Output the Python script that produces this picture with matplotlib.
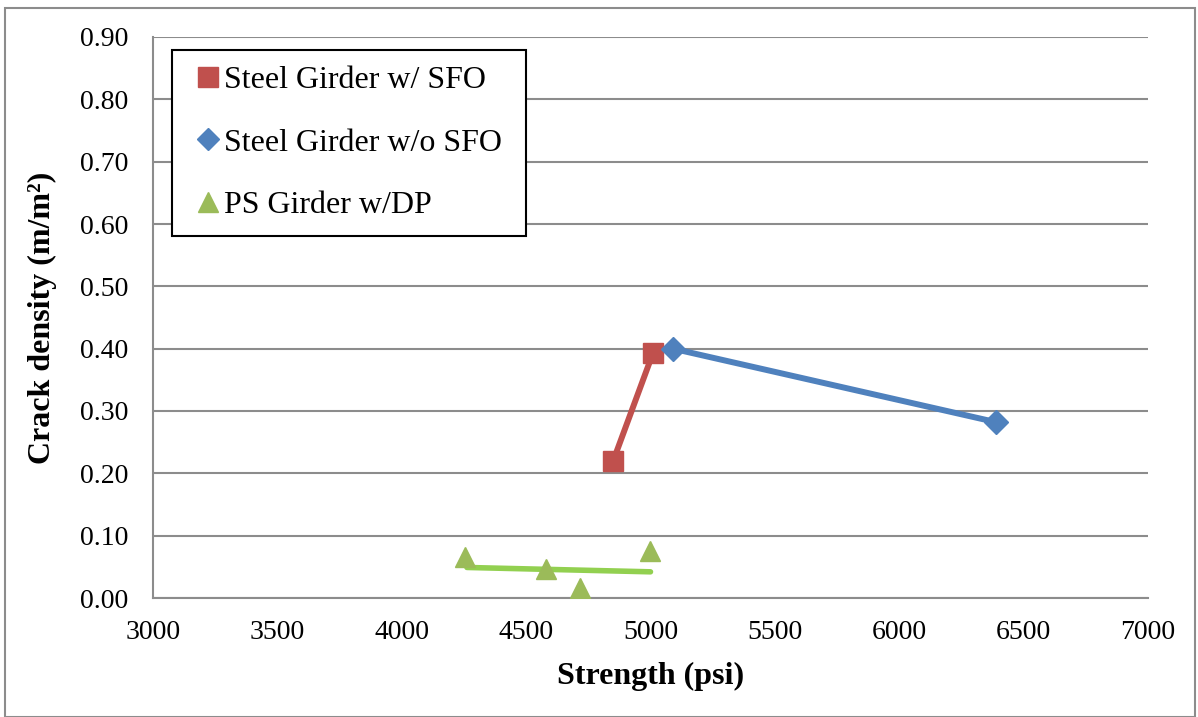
import matplotlib.pyplot as plt
from matplotlib.patches import Rectangle

plt.rcParams['font.family'] = ['Liberation Serif', 'DejaVu Serif']

# data
sfo_x = [4850, 5010]
sfo_y = [0.220, 0.393]
nosfo_x = [5090, 6390]
nosfo_y = [0.400, 0.282]
dp_x = [4255, 4578, 4718, 4998]
dp_y = [0.066, 0.047, 0.016, 0.075]
trend_x = [4262, 5000]
trend_y = [0.049, 0.042]

x_ticks = [3000, 3500, 4000, 4500, 5000, 5500, 6000, 6500, 7000]
y_ticks = [0.0, 0.1, 0.2, 0.3, 0.4, 0.5, 0.6, 0.7, 0.8, 0.9]

red = '#C0504D'
blue = '#4F81BD'
green = '#9BBB59'
trend_green = '#92D050'
grid_gray = '#8C8C8C'

fig = plt.figure(figsize=(11.98, 7.17), dpi=100)
fig.patches.append(Rectangle((5 / 1198, 0), 1190 / 1198, 1 - 8 / 717, transform=fig.transFigure,
                             fill=False, edgecolor='#8C8C8C', linewidth=1.5))
ax = fig.add_axes([153 / 1198, 1 - 598 / 717, (1148 - 153) / 1198, (598 - 37) / 717])

ax.plot(trend_x, trend_y, color=trend_green, linewidth=4, solid_capstyle='round', zorder=2)
ax.plot(sfo_x, sfo_y, color=red, linewidth=4.3, marker='s', markersize=14, zorder=3)
ax.plot(nosfo_x, nosfo_y, color=blue, linewidth=4.3, marker='D', markersize=12, zorder=3)
ax.plot(dp_x, dp_y, linestyle='none', color=green, marker='^', markersize=15, zorder=3)

ax.set_xlim(3000, 7000)
ax.set_ylim(0, 0.9)
ax.set_xticks(x_ticks)
ax.set_yticks(y_ticks)
ax.set_yticklabels(['%.2f' % v for v in y_ticks])
ax.tick_params(length=0, labelsize=20)
ax.tick_params(axis='y', pad=18)
ax.tick_params(axis='x', pad=16)
ax.grid(axis='y', color=grid_gray, linewidth=1.5)
ax.set_axisbelow(True)
for s in ['top', 'right']:
    ax.spines[s].set_visible(False)
for s in ['left', 'bottom']:
    ax.spines[s].set_color(grid_gray)
    ax.spines[s].set_linewidth(1.5)

ax.set_xlabel('Strength (psi)', fontsize=23, fontweight='bold', labelpad=12)
ax.set_ylabel('Crack density (m/m²)', fontsize=23, fontweight='bold', labelpad=16)

handles = [
    plt.Line2D([], [], color=red, marker='s', linestyle='none', markersize=14),
    plt.Line2D([], [], color=blue, marker='D', linestyle='none', markersize=11),
    plt.Line2D([], [], color=green, marker='^', linestyle='none', markersize=14),
]
labels = ['Steel Girder w/ SFO', 'Steel Girder w/o SFO ', 'PS Girder w/DP']
leg = ax.legend(handles, labels, loc='upper left', bbox_to_anchor=(0.019, 0.977), fontsize=23,
                frameon=True, fancybox=False, edgecolor='black', framealpha=1,
                handlelength=1.25, handletextpad=-0.12, labelspacing=1.03, borderpad=0.5,
                borderaxespad=0)
leg.get_frame().set_linewidth(1.5)

fig.savefig('out.png', dpi=100)
